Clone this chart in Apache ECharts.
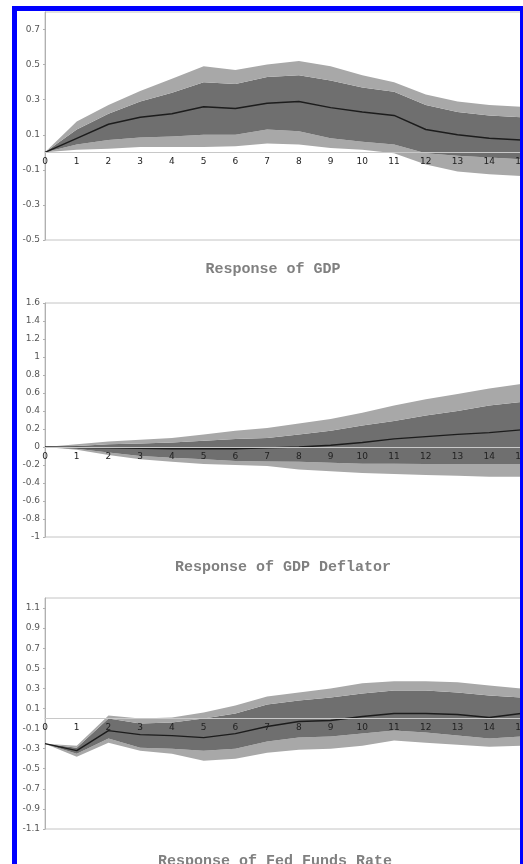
<!DOCTYPE html>
<html>
<head>
<meta charset="utf-8">
<script src="https://cdn.jsdelivr.net/npm/echarts@6/dist/echarts.min.js"></script>
<style>
  html, body { margin: 0; padding: 0; background: #ffffff; }
  #chart { width: 523px; height: 864px; }
</style>
</head>
<body>
<div id="chart"></div>
<script>
// Horizons (quarters after the shock)
const horizons = [0, 1, 2, 3, 4, 5, 6, 7, 8, 9, 10, 11, 12, 13, 14, 15];

// Response of GDP: point estimate with inner and outer bands
const gdpMean = [0, 0.08, 0.16, 0.20, 0.22, 0.26, 0.25, 0.28, 0.29, 0.255, 0.23, 0.21, 0.13, 0.10, 0.08, 0.07];
const gdpHi68 = [0, 0.13, 0.22, 0.29, 0.34, 0.40, 0.39, 0.43, 0.44, 0.41, 0.37, 0.345, 0.27, 0.23, 0.21, 0.20];
const gdpLo68 = [0, 0.045, 0.07, 0.085, 0.09, 0.10, 0.10, 0.13, 0.12, 0.08, 0.06, 0.045, -0.005, -0.02, -0.03, -0.04];
const gdpHi95 = [0, 0.175, 0.27, 0.35, 0.42, 0.49, 0.47, 0.50, 0.52, 0.49, 0.44, 0.40, 0.33, 0.29, 0.27, 0.26];
const gdpLo95 = [0, 0.015, 0.02, 0.03, 0.03, 0.03, 0.035, 0.05, 0.045, 0.025, 0.015, -0.005, -0.07, -0.11, -0.125, -0.135];

// Response of GDP Deflator
const defMean = [0, -0.005, -0.01, -0.015, -0.02, -0.02, -0.02, -0.01, 0, 0.02, 0.05, 0.09, 0.115, 0.14, 0.16, 0.19];
const defHi68 = [0, 0.01, 0.03, 0.04, 0.05, 0.07, 0.09, 0.10, 0.14, 0.18, 0.24, 0.29, 0.35, 0.40, 0.46, 0.50];
const defLo68 = [0, -0.02, -0.06, -0.10, -0.12, -0.135, -0.155, -0.16, -0.165, -0.175, -0.185, -0.185, -0.19, -0.19, -0.19, -0.19];
const defHi95 = [0, 0.03, 0.06, 0.08, 0.10, 0.14, 0.18, 0.21, 0.26, 0.31, 0.38, 0.46, 0.53, 0.59, 0.65, 0.70];
const defLo95 = [0, -0.03, -0.09, -0.135, -0.165, -0.19, -0.20, -0.21, -0.25, -0.27, -0.29, -0.30, -0.31, -0.32, -0.33, -0.33];

// Response of Fed Funds Rate
const ffMean = [-0.25, -0.32, -0.12, -0.16, -0.17, -0.19, -0.15, -0.08, -0.03, -0.02, 0.02, 0.05, 0.05, 0.04, 0.01, 0.05];
const ffHi68 = [-0.25, -0.29, 0.0, -0.05, -0.04, 0.0, 0.05, 0.14, 0.18, 0.21, 0.25, 0.28, 0.28, 0.26, 0.23, 0.21];
const ffLo68 = [-0.25, -0.35, -0.20, -0.29, -0.30, -0.32, -0.30, -0.23, -0.19, -0.18, -0.15, -0.12, -0.14, -0.17, -0.20, -0.18];
const ffHi95 = [-0.25, -0.27, 0.03, 0.0, 0.01, 0.06, 0.13, 0.22, 0.26, 0.30, 0.35, 0.37, 0.37, 0.36, 0.33, 0.30];
const ffLo95 = [-0.25, -0.38, -0.24, -0.32, -0.35, -0.42, -0.40, -0.34, -0.31, -0.30, -0.27, -0.22, -0.24, -0.26, -0.28, -0.27];

// Panel titles and y-axis ranges
const titles = ['Response of GDP', 'Response of GDP Deflator', 'Response of Fed Funds Rate'];
const yRanges = [
  { min: -0.5, max: 0.8, interval: 0.2 },
  { min: -1, max: 1.6, interval: 0.2 },
  { min: -1.1, max: 1.2, interval: 0.2 }
];
// whether the top of the range carries a label
const showTopLabel = [false, true, false];

const panels = [
  { mean: gdpMean, hi68: gdpHi68, lo68: gdpLo68, hi95: gdpHi95, lo95: gdpLo95 },
  { mean: defMean, hi68: defHi68, lo68: defLo68, hi95: defHi95, lo95: defLo95 },
  { mean: ffMean, hi68: ffHi68, lo68: ffLo68, hi95: ffHi95, lo95: ffLo95 }
];

const LIGHT = '#a8a8a8';
const DARK = '#6f6f6f';

const gridBoxes = [
  { left: 45, top: 12, width: 476, height: 228 },
  { left: 45, top: 303, width: 476, height: 234 },
  { left: 45, top: 598, width: 476, height: 231 }
];
const titleSpots = [[273, 269], [283, 567], [275, 861]];

const diff = (a, b) => a.map((v, i) => +(v - b[i]).toFixed(4));

const grid = [], xAxis = [], yAxis = [], series = [], graphic = [];

panels.forEach((p, k) => {
  const box = gridBoxes[k];
  const rng = yRanges[k];
  grid.push(Object.assign({
    show: true, borderColor: '#c4c4c4', borderWidth: 1, backgroundColor: '#ffffff',
    outerBoundsMode: 'none', containLabel: false
  }, box));

  // the horizon axis sits on the zero line of its panel
  const zeroLift = box.height * (0 - rng.min) / (rng.max - rng.min);
  xAxis.push({
    type: 'category', gridIndex: k, data: horizons, boundaryGap: false, z: 10,
    position: 'bottom', offset: -zeroLift,
    axisLine: { onZero: false, lineStyle: { color: '#c8c8c8', width: 1 } },
    axisTick: { show: false },
    axisLabel: { interval: 0, margin: 5, fontSize: 9, color: '#222', fontFamily: 'DejaVu Sans' },
    splitLine: { show: false }
  });

  yAxis.push(Object.assign({
    type: 'value', gridIndex: k,
    axisLine: { show: true, lineStyle: { color: '#b0b0b0' } },
    axisTick: { show: true, length: 2, lineStyle: { color: '#b0b0b0' } },
    axisLabel: { showMaxLabel: showTopLabel[k], margin: 5, fontSize: 9, color: '#555', fontFamily: 'DejaVu Sans' },
    splitLine: { show: false }
  }, rng));

  const stack = 'band' + k;
  const common = {
    type: 'line', xAxisIndex: k, yAxisIndex: k, stack: stack, stackStrategy: 'all',
    symbol: 'none', silent: true, lineStyle: { width: 0, opacity: 0 }
  };
  series.push(Object.assign({}, common, { name: 'base' + k, data: p.lo95 }));
  series.push(Object.assign({}, common, { name: 'outerLow' + k, data: diff(p.lo68, p.lo95), areaStyle: { color: LIGHT, opacity: 1 } }));
  series.push(Object.assign({}, common, { name: 'inner' + k, data: diff(p.hi68, p.lo68), areaStyle: { color: DARK, opacity: 1 } }));
  series.push(Object.assign({}, common, { name: 'outerHigh' + k, data: diff(p.hi95, p.hi68), areaStyle: { color: LIGHT, opacity: 1 } }));
  series.push({
    type: 'line', name: 'mean' + k, xAxisIndex: k, yAxisIndex: k, data: p.mean,
    symbol: 'none', silent: true, z: 5,
    lineStyle: { color: '#1c1c1c', width: 1.4 }
  });

  graphic.push({
    type: 'text', x: titleSpots[k][0], y: titleSpots[k][1], z: 50,
    style: {
      text: titles[k], align: 'center', verticalAlign: 'middle',
      fontFamily: 'Liberation Mono', fontSize: 15, fontWeight: 'bold', fill: '#808080'
    }
  });
});

// Blue selection frame around the figure
graphic.push({
  type: 'rect', z: 100, silent: true,
  shape: { x: 14.5, y: 8.5, width: 508, height: 900 },
  style: { fill: null, stroke: '#0000ff', lineWidth: 5 }
});

const chart = echarts.init(document.getElementById('chart'), null, { renderer: 'canvas' });
chart.setOption({
  animation: false,
  backgroundColor: '#ffffff',
  grid: grid,
  xAxis: xAxis,
  yAxis: yAxis,
  series: series,
  graphic: graphic
});
</script>
</body>
</html>
